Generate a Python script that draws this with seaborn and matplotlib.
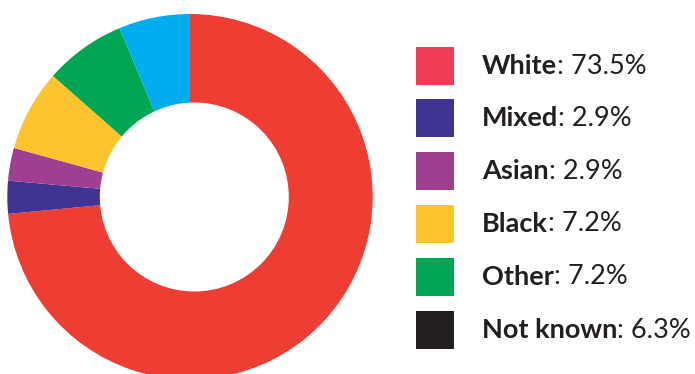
import matplotlib
matplotlib.use("Agg")
import matplotlib.pyplot as plt
from matplotlib.patches import Rectangle, Circle
import seaborn as sns

categories = ["White", "Mixed", "Asian", "Black", "Other", "Not known"]
values = [73.5, 2.9, 2.9, 7.2, 7.2, 6.3]
labels_pct = ["73.5%", "2.9%", "2.9%", "7.2%", "7.2%", "6.3%"]
slice_colors = ["#EE3E34", "#3F3494", "#9E3F92", "#FEC42D", "#00A651", "#00AEEF"]
legend_colors = ["#EE3D55", "#3F3494", "#9E3F92", "#FEC42D", "#00A651", "#231F20"]

sns.set_theme(style="white")
plt.rcParams['font.family'] = ['Lato', 'DejaVu Sans']

W, H = 695, 374
fig = plt.figure(figsize=(W / 100, H / 100), dpi=100)
fig.patch.set_facecolor("white")

# pie axes: centre (190,196.7) px, radius 182.7 px
cx, cy, r = 190, 196.7, 182.7
ax = fig.add_axes([(cx - r) / W, 1 - (cy + r) / H, 2 * r / W, 2 * r / H])
ax.pie(values, colors=slice_colors, startangle=90, counterclock=False,
       radius=1.0, wedgeprops=dict(linewidth=0))
# donut hole (slightly off-centre as in the reference)
ax.add_patch(Circle((4.3 / r, -0.3 / r), 94.5 / r, facecolor="white",
                    edgecolor="none", zorder=5))
ax.set_xlim(-1, 1)
ax.set_ylim(-1, 1)
ax.set_aspect("equal")
ax.axis("off")

renderer = fig.canvas.get_renderer()
row_y = [66, 118, 171, 224, 277, 330]
for cat, pct, col, y in zip(categories, labels_pct, legend_colors, row_y):
    fig.add_artist(Rectangle(((416) / W, 1 - (y + 19) / H), 38 / W, 38 / H,
                             transform=fig.transFigure, facecolor=col,
                             edgecolor="none"))
    t = fig.text(482 / W, 1 - y / H, cat, fontsize=19.5, fontweight="bold",
                 color="#231F20", va="center", ha="left")
    bb = t.get_window_extent(renderer)
    fig.text(bb.x1 / W, 1 - y / H, ": " + pct, fontsize=19.5,
             color="#231F20", va="center", ha="left")

fig.savefig("out.png", dpi=100, facecolor="white")
